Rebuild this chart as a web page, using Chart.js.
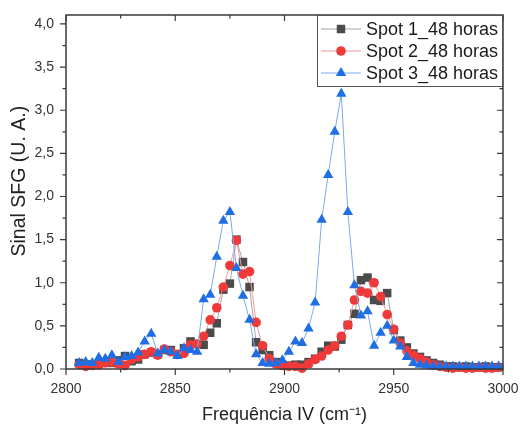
<!DOCTYPE html>
<html>
<head>
<meta charset="utf-8">
<script src="https://cdn.jsdelivr.net/npm/chart.js@4.4.1/dist/chart.umd.min.js"></script>
<style>
  html, body { margin: 0; padding: 0; background: #fff; }
</style>
</head>
<body>
<canvas id="sfgChart" width="520" height="430"></canvas>
<script>
// IR frequency of each measured point (cm-1)
const frequencies = [
  2806, 2809, 2812, 2815, 2818, 2821, 2824, 2827, 2830, 2833,
  2836, 2839, 2842, 2845, 2848, 2851, 2854, 2857, 2860, 2863,
  2866, 2869, 2872, 2875, 2878, 2881, 2884, 2887, 2890, 2893,
  2896, 2899, 2902, 2905, 2908, 2911, 2914, 2917, 2920, 2923,
  2926, 2929, 2932, 2935, 2938, 2941, 2944, 2947, 2950, 2953,
  2956, 2959, 2962, 2965, 2968, 2971, 2974, 2977, 2980, 2983,
  2986, 2989, 2992, 2995, 2998
];

// SFG signal (a.u.)
const spot1 = [
  0.07, 0.05, 0.05, 0.06, 0.08, 0.07, 0.10, 0.15, 0.09, 0.11,
  0.17, 0.19, 0.17, 0.22, 0.22, 0.17, 0.24, 0.32, 0.29, 0.28,
  0.42, 0.53, 0.92, 0.99, 1.50, 1.24, 0.95, 0.31, 0.22, 0.16,
  0.08, 0.05, 0.04, 0.05, 0.05, 0.08, 0.12, 0.20, 0.27, 0.26,
  0.34, 0.51, 0.64, 1.03, 1.06, 0.80, 0.79, 0.88, 0.45, 0.33,
  0.25, 0.18, 0.14, 0.10, 0.07, 0.05, 0.03, 0.03, 0.02, 0.03,
  0.02, 0.02, 0.03, 0.02, 0.02
];
const spot2 = [
  0.05, 0.03, 0.04, 0.05, 0.07, 0.08, 0.06, 0.04, 0.11, 0.14,
  0.17, 0.20, 0.16, 0.23, 0.20, 0.17, 0.18, 0.28, 0.29, 0.38,
  0.57, 0.71, 0.95, 1.20, 1.49, 1.10, 1.13, 0.54, 0.27, 0.12,
  0.06, 0.04, 0.03, 0.03, 0.01, 0.06, 0.11, 0.15, 0.22, 0.27,
  0.38, 0.51, 0.80, 0.90, 0.88, 1.00, 0.84, 0.63, 0.46, 0.30,
  0.21, 0.16, 0.12, 0.08, 0.05, 0.03, 0.02, 0.01, 0.02, 0.01,
  0.01, 0.02, 0.01, 0.01, 0.02
];
const spot3 = [
  0.07, 0.08, 0.07, 0.13, 0.12, 0.16, 0.08, 0.14, 0.15, 0.19,
  0.32, 0.41, 0.18, 0.22, 0.20, 0.15, 0.24, 0.22, 0.20, 0.81,
  0.86, 1.30, 1.72, 1.82, 1.17, 0.85, 0.57, 0.17, 0.07, 0.06,
  0.07, 0.10, 0.20, 0.32, 0.30, 0.47, 0.77, 1.73, 2.25, 2.75,
  3.19, 1.82, 0.97, 0.62, 0.67, 0.27, 0.42, 0.50, 0.33, 0.26,
  0.14, 0.07, 0.05, 0.04, 0.03, 0.03, 0.03, 0.03, 0.03, 0.03,
  0.03, 0.03, 0.03, 0.03, 0.03
];

const seriesNames = ['Spot 1_48 horas', 'Spot 2_48 horas', 'Spot 3_48 horas'];

// axis tick labels
const xTickValues = [2800, 2850, 2900, 2950, 3000];
const yTickValues = [0, 0.5, 1, 1.5, 2, 2.5, 3, 3.5, 4];

const AXIS_COLOR = '#3a3a3a';
const FONT = "'Liberation Sans', Arial, sans-serif";
Chart.defaults.font.family = FONT;
Chart.defaults.color = '#333';

function toPoints(values) {
  return values.map((v, i) => ({ x: frequencies[i], y: v }));
}

// frame round the plot with major/minor ticks on all four sides
const framePlugin = {
  id: 'frame',
  afterDatasetsDraw(chart) {
    const { ctx, chartArea: a, scales } = chart;
    const xs = scales.x, ys = scales.y;
    ctx.save();
    ctx.strokeStyle = AXIS_COLOR;
    ctx.lineWidth = 1.5;
    ctx.strokeRect(a.left, a.top, a.right - a.left, a.bottom - a.top);
    ctx.lineWidth = 1.2;
    ctx.beginPath();
    for (let v = 2800; v <= 3000; v += 25) {
      const px = xs.getPixelForValue(v);
      const len = (v % 50 === 0) ? 6 : 3.5;
      ctx.moveTo(px, a.bottom); ctx.lineTo(px, a.bottom + len);
      ctx.moveTo(px, a.top); ctx.lineTo(px, a.top + len);
    }
    for (let k = 0; k <= 16; k++) {
      const v = k * 0.25;
      const py = ys.getPixelForValue(v);
      const len = (k % 2 === 0) ? 6 : 3.5;
      ctx.moveTo(a.left, py); ctx.lineTo(a.left - len, py);
      ctx.moveTo(a.right, py); ctx.lineTo(a.right - len, py);
    }
    ctx.stroke();
    ctx.restore();
  }
};

// legend box in the top right corner, line + marker sample
const legendPlugin = {
  id: 'boxLegend',
  afterDraw(chart) {
    const { ctx, chartArea: a } = chart;
    const boxW = 186, boxH = 72;
    const x0 = a.right - boxW, y0 = a.top;
    ctx.save();
    ctx.fillStyle = '#fff';
    ctx.fillRect(x0, y0, boxW, boxH);
    ctx.strokeStyle = '#555';
    ctx.lineWidth = 1;
    ctx.strokeRect(x0 + 0.5, y0 + 0.5, boxW - 1, boxH - 1);
    chart.data.datasets.forEach((ds, i) => {
      const cy = y0 + 14 + i * 22;
      ctx.strokeStyle = ds.borderColor;
      ctx.lineWidth = 1.2;
      ctx.beginPath();
      ctx.moveTo(x0 + 4, cy); ctx.lineTo(x0 + 44, cy);
      ctx.stroke();
      ctx.fillStyle = ds.pointBackgroundColor;
      ctx.strokeStyle = ds.pointBorderColor;
      Chart.helpers.drawPoint(ctx, {
        pointStyle: ds.pointStyle, radius: ds.pointRadius, rotation: 0, borderWidth: 0
      }, x0 + 24, cy);
      ctx.fillStyle = '#1a1a1a';
      ctx.font = "18px " + FONT;
      ctx.textBaseline = 'middle';
      ctx.fillText(ds.label, x0 + 49, cy + 1);
    });
    ctx.restore();
  }
};

const ctx = document.getElementById('sfgChart').getContext('2d');

new Chart(ctx, {
  type: 'line',
  data: {
    datasets: [
      {
        label: seriesNames[0],
        data: toPoints(spot1),
        borderColor: '#a6a6a6',
        borderWidth: 1,
        pointStyle: 'rect',
        pointRadius: 6,
        pointBackgroundColor: '#4b4b4b',
        pointBorderColor: '#4b4b4b',
        pointBorderWidth: 0,
        order: 3,
        clip: false
      },
      {
        label: seriesNames[1],
        data: toPoints(spot2),
        borderColor: '#f49a9a',
        borderWidth: 1,
        pointStyle: 'circle',
        pointRadius: 4.8,
        pointBackgroundColor: '#f03a3a',
        pointBorderColor: '#f03a3a',
        pointBorderWidth: 0,
        order: 2,
        clip: false
      },
      {
        label: seriesNames[2],
        data: toPoints(spot3),
        borderColor: '#79aaf0',
        borderWidth: 1,
        pointStyle: 'triangle',
        pointRadius: 6,
        pointBackgroundColor: '#1f6ee3',
        pointBorderColor: '#1f6ee3',
        pointBorderWidth: 0,
        order: 1,
        clip: false
      }
    ]
  },
  options: {
    responsive: false,
    animation: false,
    layout: { padding: { top: 15, right: 17, left: 0, bottom: 0 } },
    plugins: {
      legend: { display: false },
      tooltip: { enabled: false }
    },
    scales: {
      x: {
        type: 'linear',
        min: 2800,
        max: 3000,
        grid: { display: false, drawTicks: false },
        border: { display: false },
        afterBuildTicks: scale => { scale.ticks = xTickValues.map(v => ({ value: v })); },
        afterFit: scale => {
          scale.height = 61;
          scale.paddingLeft = 0;
          scale.paddingRight = 0;
        },
        ticks: {
          padding: 12,
          font: { size: 14 },
          color: '#333',
          maxRotation: 0,
          callback: v => String(v)
        },
        title: {
          display: true,
          text: 'Frequência IV (cm⁻¹)',
          font: { size: 18 },
          color: '#222',
          padding: { top: 0, bottom: 4 }
        }
      },
      y: {
        type: 'linear',
        min: 0,
        max: 4.104,
        grid: { display: false, drawTicks: false },
        border: { display: false },
        afterBuildTicks: scale => { scale.ticks = yTickValues.map(v => ({ value: v })); },
        afterFit: scale => {
          scale.width = 66;
          scale.paddingTop = 0;
          scale.paddingBottom = 0;
        },
        ticks: {
          padding: 12,
          font: { size: 14 },
          color: '#333',
          callback: v => v.toFixed(1).replace('.', ',')
        },
        title: {
          display: true,
          // leading spaces nudge the rotated title a bit upwards, as in the original
          text: '    Sinal SFG (U. A.)',
          font: { size: 19.5 },
          color: '#222',
          padding: { top: 8, bottom: 0 }
        }
      }
    }
  },
  plugins: [framePlugin, legendPlugin]
});
</script>
</body>
</html>
